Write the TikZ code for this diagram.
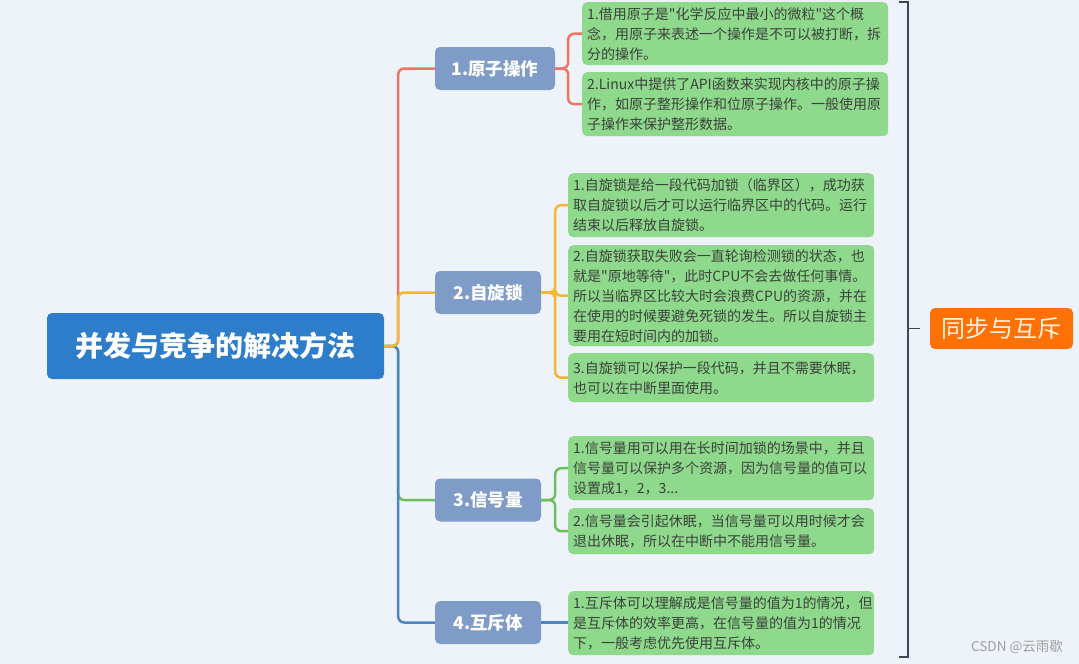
\documentclass[tikz,border=0pt]{standalone}
\usepackage{fontspec}
\newfontfamily\cjkf{Noto Sans CJK SC}
\definecolor{bg}{HTML}{EDF3F8}
\definecolor{rootblue}{HTML}{2E7DCB}
\definecolor{nodeblue}{HTML}{7F9CC8}
\definecolor{leafgreen}{HTML}{8FD98D}
\definecolor{leaftext}{HTML}{3A423A}
\definecolor{lred}{HTML}{EE7563}
\definecolor{lorange}{HTML}{F4B731}
\definecolor{lgreen}{HTML}{6CBD5C}
\definecolor{lblue}{HTML}{4A85C9}
\definecolor{syncorange}{HTML}{FF7104}
\definecolor{synctext}{HTML}{FFF2DE}
\definecolor{bracket}{HTML}{3D4556}
\definecolor{wm}{HTML}{A0A0A0}
\begin{document}
\begin{tikzpicture}[x=1pt,y=-1pt,
  leaf/.style={fill=leafgreen, rounded corners=5pt, anchor=north west, text width=296pt,
    inner xsep=5pt, inner ysep=0pt, align=left, text=leaftext,
    font=\cjkf\fontsize{14}{20}\selectfont},
  topic/.style={fill=nodeblue, rounded corners=5pt, minimum height=43pt, text=white,
    inner sep=0pt, font=\cjkf\fontsize{17.5}{20}\selectfont\bfseries},
  conn/.style={line width=2.5pt, rounded corners=6pt},
]
\fill[bg] (0,0) rectangle (1079,664);
\useasboundingbox (0,0) rectangle (1079,664);

% root
\node[fill=rootblue, rounded corners=5pt, minimum width=337pt, minimum height=66pt, inner sep=0pt,
  text=white, font=\cjkf\fontsize{28}{30}\selectfont\bfseries] (root) at (215.5,346) {并发与竞争的解决方法};

% topics
\node[topic, minimum width=120pt] (n1) at (495,68.5) {1.原子操作};
\node[topic, minimum width=106pt] (n2) at (488,292.5) {2.自旋锁};
\node[topic, minimum width=106pt] (n3) at (488,500) {3.信号量};
\node[topic, minimum width=106pt] (n4) at (488,622.5) {4.互斥体};

% leaves
\node[leaf, minimum height=63pt] (l1a) at (582,2) {1.借用原子是"化学反应中最小的微粒"这个概\\念，用原子来表述一个操作是不可以被打断，拆\\分的操作。};
\node[leaf, minimum height=64pt] (l1b) at (582,72) {2.Linux中提供了API函数来实现内核中的原子操\\作，如原子整形操作和位原子操作。一般使用原\\子操作来保护整形数据。};

\node[leaf, minimum height=64pt] (l2a) at (568,173) {1.自旋锁是给一段代码加锁（临界区），成功获\\取自旋锁以后才可以运行临界区中的代码。运行\\结束以后释放自旋锁。};
\node[leaf, minimum height=101pt] (l2b) at (568,245) {2.自旋锁获取失败会一直轮询检测锁的状态，也\\就是"原地等待"，此时CPU不会去做任何事情。\\所以当临界区比较大时会浪费CPU的资源，并在\\在使用的时候要避免死锁的发生。所以自旋锁主\\要用在短时间内的加锁。};
\node[leaf, minimum height=49pt] (l2c) at (568,353) {3.自旋锁可以保护一段代码，并且不需要休眠，\\也可以在中断里面使用。};

\node[leaf, minimum height=64pt] (l3a) at (568,436) {1.信号量用可以用在长时间加锁的场景中，并且\\信号量可以保护多个资源，因为信号量的值可以\\设置成1，2，3...};
\node[leaf, minimum height=46pt] (l3b) at (568,508) {2.信号量会引起休眠，当信号量可以用时候才会\\退出休眠，所以在中断中不能用信号量。};

\node[leaf, minimum height=64pt] (l4) at (568,591) {1.互斥体可以理解成是信号量的值为1的情况，但\\是互斥体的效率更高，在信号量的值为1的情况\\下，一般考虑优先使用互斥体。};

% trunk connectors
\draw[conn, lgreen] (root.east) -- ++(14,0) |- (n3.west);
\draw[conn, lblue] (root.east) -- ++(14,0) |- (n4.west);
\draw[conn, lred] (root.east) -- ++(14,0) |- (n1.west);
\draw[conn, lorange] (root.east) -- ++(14,0) |- (n2.west);

% leaf connectors
\draw[conn, lred] (n1.east) -- ++(13,0) |- (l1a.west);
\draw[conn, lred] (n1.east) -- ++(13,0) |- (l1b.west);
\draw[conn, lorange] (n2.east) -- ++(14,0) |- (l2a.west);
\draw[conn, lorange] (n2.east) -- ++(14,0) |- (l2b.west);
\draw[conn, lorange] (n2.east) -- ++(14,0) |- (l2c.west);
\draw[conn, lgreen] (n3.east) -- ++(14,0) |- (l3a.west);
\draw[conn, lgreen] (n3.east) -- ++(14,0) |- (l3b.west);
\draw[conn, lblue] (n4.east) -- (l4.west |- n4.east);

% bracket and summary
\node[fill=syncorange, rounded corners=5pt, minimum width=143pt, minimum height=41pt, inner sep=0pt,
  text=synctext, font=\cjkf\fontsize{24}{26}\selectfont] (sync) at (1001.5,328.5) {同步与互斥};
\coordinate (bt) at (899,1.5);
\coordinate (bb) at (899,656.5);
\coordinate (bm) at (908,328.5);
\coordinate (tk) at (920,328.5);
\draw[bracket, line width=2pt] (bt) -- (908,1.5) -- (908,656.5) -- (bb);
\draw[bracket, line width=1.5pt] (bm) -- (tk);

% watermark
\node[text=wm, font=\cjkf\fontsize{13.5}{15}\selectfont, anchor=east, inner sep=0pt] (wmk) at (1063,647) {CSDN @云雨歇};
\end{tikzpicture}
\end{document}
